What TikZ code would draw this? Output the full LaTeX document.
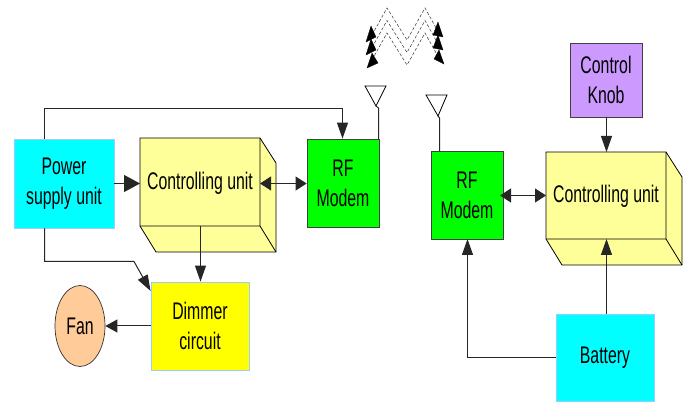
\documentclass[tikz,border=0pt]{standalone}
\usepackage{fontspec}
\setmainfont[FakeStretch=0.66]{Liberation Sans}
\usetikzlibrary{arrows.meta, positioning, shapes.geometric}
\definecolor{boxcyan}{RGB}{0,255,255}
\definecolor{boxedge}{RGB}{153,204,255}
\definecolor{boxyellow}{RGB}{255,255,0}
\definecolor{boxgreen}{RGB}{0,255,0}
\definecolor{boxcream}{RGB}{255,255,153}
\definecolor{boxpurple}{RGB}{204,153,255}
\definecolor{boxpeach}{RGB}{255,204,153}
\tikzset{
	label/.style={inner sep=0pt, align=center, font=\fontsize{24}{30}\selectfont},
	unit/.style={label, draw=boxedge, line width=0.8pt},
	plain/.style={label, draw=black!75, line width=0.8pt},
	wire/.style={draw=black!85, line width=1pt},
	outline/.style={draw=black, line width=0.8pt},
	bigtip/.style={-{Triangle[length=16pt,width=17pt]}},
	midtip/.style={-{Triangle[length=16pt,width=11pt]}},
	shorttip/.style={-{Triangle[length=12pt,width=13pt]}},
	bothtip/.style={{Triangle[length=11pt,width=14pt]}-{Triangle[length=11pt,width=14pt]}},
	wave/.style={black!80, densely dashed, line width=0.5pt},
	wavetip/.style={draw=black, fill=black, line width=0.3pt},
}
\begin{document}
\begin{tikzpicture}[x=1pt, y=-1pt]
	\useasboundingbox (0,0) rectangle (689,403);

	% left side
	\node[unit, fill=boxcyan, minimum width=100pt, minimum height=89pt] (power) at (64,183.5) {Power\\supply unit};
	\draw[outline, fill=boxcream] (140,138) -- (260,138) -- (276,163) -- (276,252) -- (156,252) -- (140,226) -- cycle;
	\draw[outline] (260,138) -- (260,226) -- (276,252) (260,226) -- (140,226);
	\node[label] (ctrlL) at (200,183) {Controlling unit};
	\node[plain, fill=boxgreen, minimum width=72pt, minimum height=88pt] (rfL) at (343,183) {RF\\Modem};
	\node[unit, fill=boxyellow, minimum width=98pt, minimum height=88pt] (dimmer) at (200,326) {Dimmer\\circuit};
	\node[label, ellipse, draw=black!80, fill=boxpeach, line width=0.7pt, minimum width=50pt, minimum height=81pt] (fan) at (80,326) {Fan};

	% right side
	\node[plain, fill=boxgreen, minimum width=72pt, minimum height=88pt] (rfR) at (467,195) {RF\\Modem};
	\draw[outline, fill=boxcream] (546,152) -- (666,152) -- (682,177) -- (682,265) -- (562,265) -- (546,239) -- cycle;
	\draw[outline] (666,152) -- (666,239) -- (682,265) (666,239) -- (546,239);
	\node[label] (ctrlR) at (606,196) {Controlling unit};
	\node[plain, fill=boxpurple, minimum width=72pt, minimum height=74pt] (knob) at (606,80) {Control\\Knob};
	\node[unit, fill=boxcyan, minimum width=98pt, minimum height=87pt] (battery) at (605,357.5) {Battery};

	% connectors
	\coordinate (ctrlLw) at (140,183.5);
	\coordinate (ctrlLe) at (260,183.5);
	\coordinate (ctrlLs) at (200.5,226);
	\coordinate (ctrlRw) at (546,195.5);
	\coordinate (ctrlRn) at (606.5,152);
	\coordinate (ctrlRs) at (606.5,239);
	\draw[wire, bigtip] (power.east |- ctrlLw) -- (ctrlLw);
	\draw[wire, bothtip] (ctrlLe) -- (rfL.west |- ctrlLe);
	\draw[wire, midtip] (power.north -| 44.5,0) -- (44.5,108.5) -- (342.5,108.5) -- (rfL.north -| 342.5,0);
	\draw[wire, midtip] (power.south -| 44.5,0) -- (44.5,261.5) -- (134,261.5) -- (dimmer.west |- 0,291);
	\draw[wire, midtip] (ctrlLs) -- (ctrlLs |- dimmer.north);
	\draw[wire, shorttip] (dimmer.west) -- (fan.east);
	\draw[wire, bothtip] (500,195.5) -- (ctrlRw);
	\draw[wire, midtip] (ctrlRn |- knob.south) -- (ctrlRn);
	\draw[wire, midtip] (battery.north -| ctrlRs) -- (ctrlRs);
	\draw[wire, midtip] (battery.west) -- (467.5,357.5) -- (467.5,239);

	% antennas
	\coordinate (antL) at (376,106);
	\coordinate (antR) at (438,116);
	\draw[outline] (365,86) -- (386,86) -- (antL) -- cycle;
	\draw[wire] (antL) -- (378.5,108) -- (378.5,139);
	\draw[outline] (426,95) -- (447,95) -- (antR) -- cycle;
	\draw[wire] (antR) -- (439.5,118) -- (439.5,151);

	% waves
	\foreach \dy in {0,12.5,25} {
		\draw[wave, yshift=-\dy pt] (372,35) -- (387,8) -- (407,40) -- (425,8) -- (440,35);
	}
	\foreach \dy in {0,13} {
		\draw[wavetip, yshift=-\dy pt] (371,26) -- (366,42) -- (376,37) -- cycle;
		\draw[wavetip, yshift=-\dy pt] (438,22) -- (433,35) -- (443,37) -- cycle;
	}
	\draw[wavetip] (367,68) -- (372,53) -- (378,63) -- cycle;
	\draw[wavetip] (444,64) -- (434,59) -- (439,50) -- cycle;
\end{tikzpicture}
\end{document}
